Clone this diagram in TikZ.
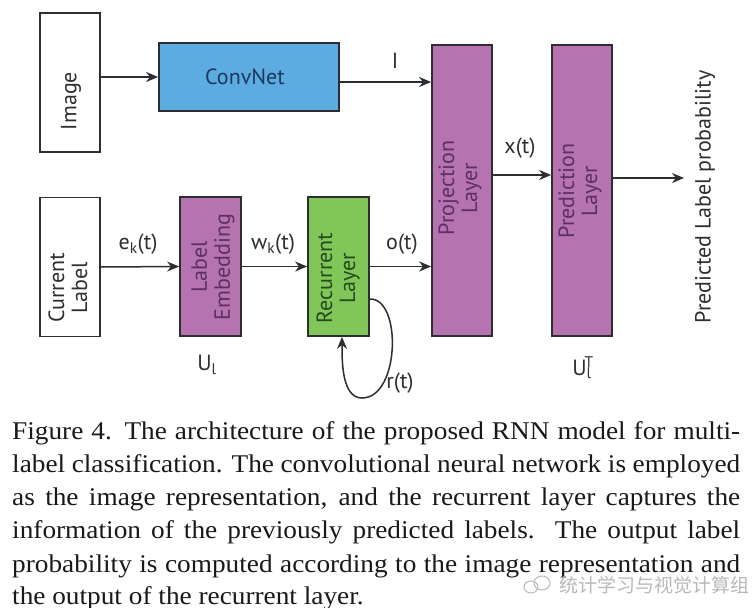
\documentclass[tikz,border=0pt]{standalone}
\usepackage{fontspec}
\setmainfont{Liberation Serif}
\newfontfamily\capfont[FakeStretch=1.07]{Liberation Serif}
\newfontfamily\dsans{PT Sans}
\newfontfamily\cjk{Noto Sans CJK SC}
\usetikzlibrary{arrows.meta}
\definecolor{convblue}{RGB}{92,172,226}
\definecolor{layerpurple}{RGB}{181,116,176}
\definecolor{recgreen}{RGB}{128,198,88}
\definecolor{edgec}{RGB}{45,45,50}
\definecolor{txtblue}{RGB}{30,55,95}
\definecolor{txtpurple}{RGB}{95,45,105}
\definecolor{txtgreen}{RGB}{35,75,30}
\definecolor{wmark}{RGB}{185,185,185}
\begin{document}
\begin{tikzpicture}[x=1pt,y=-1pt,
  box/.style={draw=edgec, line width=1.8pt, minimum width=60pt, inner sep=0pt},
  lbl/.style={font=\dsans\fontsize{22}{23}\selectfont, text=edgec, inner sep=0pt},
  rlbl/.style={lbl, rotate=90, align=center},
  conn/.style={draw=edgec, line width=1.5pt, -{Stealth[length=12pt,width=10pt]}},
  capline/.style={anchor=base west, inner sep=0pt, text=black!90, font=\capfont\fontsize{25.5}{33}\selectfont}]
\useasboundingbox[fill=white] (0,0) rectangle (753,608);

% boxes
\node[box, minimum height=139pt] (img) at (70,82.5) {};
\node[box, fill=convblue, minimum width=180pt, minimum height=68pt] (conv) at (249,77) {};
\node[box, minimum height=139pt] (cur) at (70,267) {};
\node[box, fill=layerpurple, minimum width=61pt, minimum height=139pt] (emb) at (210.5,266.5) {};
\node[box, fill=recgreen, minimum width=61pt, minimum height=139pt] (rec) at (338.5,266.5) {};
\node[box, fill=layerpurple, minimum height=291pt] (proj) at (462,190.5) {};
\node[box, fill=layerpurple, minimum height=291pt] (pred) at (582,190.5) {};

% box texts
\node[rlbl] (imgT) at (71,101) {Image};
\node[lbl, text=txtblue] (convT) at (245,77) {ConvNet};
\node[rlbl] (curT) at (68,288) {Current\\Label};
\node[rlbl, text=txtpurple] (embT) at (213,267) {Label\\Embedding};
\node[rlbl, text=txtgreen] (recT) at (338,278) {Recurrent\\Layer};
\node[rlbl, text=txtpurple] (projT) at (460,188) {Projection\\Layer};
\node[rlbl, text=txtpurple] (predT) at (580,191) {Prediction\\Layer};
\node[rlbl] (outT) at (705,197) {Predicted Label probability};

% connector labels
\node[lbl] (lI) at (395,61) {I};
\node[lbl] (lek) at (138,244) {e\textsubscript{k}(t)};
\node[lbl] (lwk) at (273,244) {w\textsubscript{k}(t)};
\node[lbl] (lot) at (402,244) {o(t)};
\node[lbl] (lxt) at (520,148) {x(t)};
\node[lbl] (lrt) at (400,383) {r(t)};
\node[lbl] (lUl) at (207,365) {U\textsubscript{l}};
\node[lbl] (lUlT) at (583,368) {U\textsubscript{l}\hspace{-0.32em}\textsuperscript{T}};

% connectors
\coordinate (outp) at (684,178);
\draw[conn] (img.east |- conv.west) -- (conv.west);
\draw[conn] ([yshift=-5pt]conv.east) -- ([yshift=-5pt]conv.east -| proj.west);
\draw[conn] (cur.east) -- (emb.west);
\draw[conn] (emb.east) -- (rec.west);
\draw[conn] (rec.east) -- (rec.east -| proj.west);
\draw[conn] ([yshift=15.5pt]proj.east) -- ([yshift=15.5pt]proj.east -| pred.west);
\draw[conn] ([yshift=12.5pt]pred.east) -- (outp);
\draw[conn] ([yshift=-32.5pt]rec.east) .. controls (402,298) and (400,398) .. (362,398)
  .. controls (342,398) and (342,362) .. ([xshift=3.5pt]rec.south);

% caption
\node[capline] (c1) at (12,439) {\makebox[728pt][s]{Figure 4. The architecture of the proposed RNN model for multi-}};
\node[capline] (c2) at (12,472.3) {\makebox[728pt][s]{label classification. The convolutional neural network is employed}};
\node[capline] (c3) at (12,505.6) {\makebox[728pt][s]{as the image representation, and the recurrent layer captures the}};
\node[capline] (c4) at (12,538.9) {\makebox[728pt][s]{information of the previously predicted labels.\ \ The output label}};
\node[capline] (c5) at (12,572.2) {\makebox[728pt][s]{probability is computed according to the image representation and}};
\node[capline] (c6) at (12,604.5) {the output of the recurrent layer.};

% watermark
\draw[wmark, line width=1pt] (531,587) ellipse (7pt and 6pt);
\draw[wmark, line width=1pt] (542,583) ellipse (8pt and 7pt);
\node[anchor=west, inner sep=0pt, text=wmark, font=\cjk\fontsize{19}{20}\selectfont] (wm) at (559,585) {统计学习与视觉计算组};
\end{tikzpicture}
\end{document}
